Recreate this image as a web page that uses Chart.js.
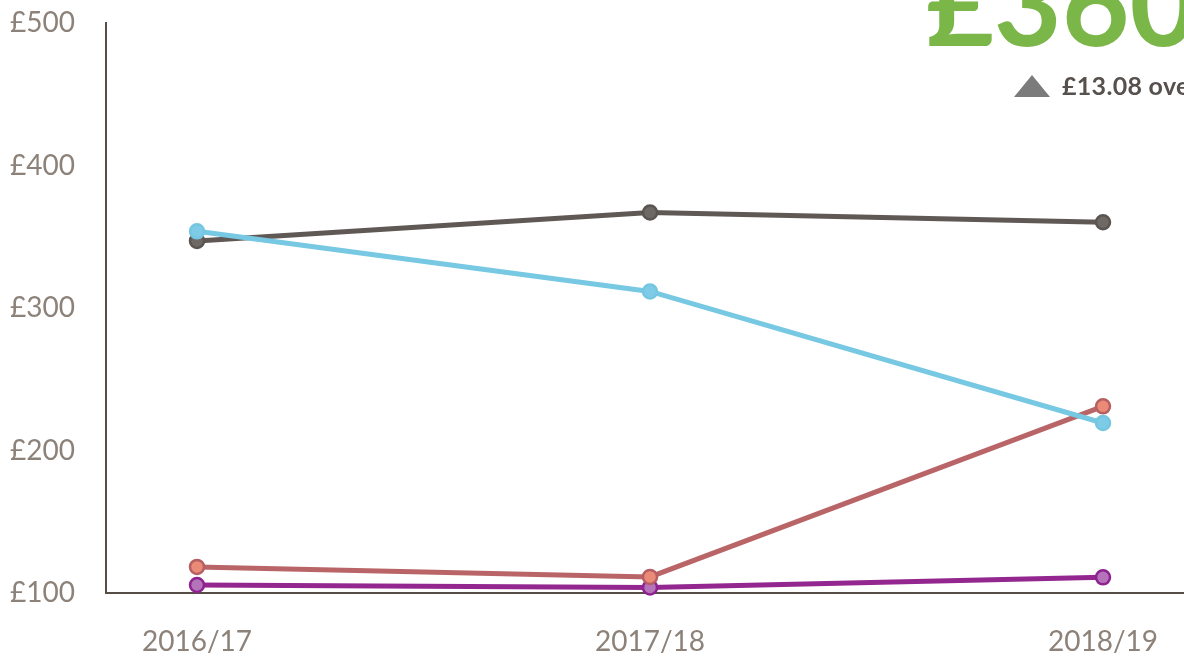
<!DOCTYPE html>
<html>
<head>
<meta charset="utf-8">
<script src="https://cdn.jsdelivr.net/npm/chart.js@4"></script>
<style>
  html, body { margin: 0; padding: 0; background: #ffffff; overflow: hidden; }
  #wrap { position: relative; width: 1184px; height: 657px; overflow: hidden; }
  #chart { position: absolute; left: 0; top: 0; }
  #big { position: absolute; left: 926px; top: -57px; font-family: Lato, sans-serif; font-weight: 700;
         font-size: 117px; line-height: 1; color: #7ab648; white-space: nowrap; }
  #tri { position: absolute; left: 1014px; top: 75px; width: 36px; height: 22px; background: #7b7b7b;
         clip-path: polygon(50% 0, 100% 100%, 0 100%); }
  #delta { position: absolute; left: 1062px; top: 73px; font-family: Lato, sans-serif; font-weight: 700;
           font-size: 25px; line-height: 1; color: #57514e; white-space: nowrap; letter-spacing: 0.3px; }
</style>
</head>
<body>
<div id="wrap">
  <canvas id="chart" width="1184" height="657"></canvas>
  <div id="big">£360</div>
  <div id="tri"></div>
  <div id="delta">£13.08 over 2016/17</div>
</div>
<script>
const categories = ["2016/17", "2017/18", "2018/19"];
const yTicks = [100, 200, 300, 400, 500];
const seriesBlue   = [353.8, 311.6, 219.3];
const seriesDark   = [347.1, 367.0, 360.2];
const seriesRed    = [118.3, 111.3, 231.0];
const seriesPurple = [105.6, 103.9, 111.0];

function pts(arr) { return arr.map((v, i) => ({ x: i, y: v })); }

const ds = (data, line, fill, border) => ({
  data: pts(data),
  borderColor: line,
  borderWidth: 5,
  pointRadius: 7,
  pointHoverRadius: 7,
  pointBackgroundColor: fill,
  pointBorderColor: border,
  pointBorderWidth: 2.5,
  tension: 0,
  fill: false,
  clip: false
});

new Chart(document.getElementById('chart'), {
  type: 'line',
  data: {
    datasets: [
      ds(seriesBlue, '#77c8e2', '#7dcbe6', '#74c6e1'),
      ds(seriesDark, '#5f5855', '#6f6966', '#5b5552'),
      ds(seriesRed, '#b96567', '#ec8a78', '#b55f62'),
      ds(seriesPurple, '#93278f', '#b574b9', '#8e2290')
    ]
  },
  options: {
    responsive: false,
    animation: false,
    events: [],
    layout: { autoPadding: false, padding: { top: 23, right: 0, bottom: 0, left: 0 } },
    plugins: { legend: { display: false }, tooltip: { enabled: false } },
    scales: {
      x: {
        type: 'linear',
        min: -0.2009,
        max: 2.1788,
        grid: { display: false, drawTicks: false },
        border: { display: true, color: '#574d47', width: 2 },
        afterBuildTicks: (scale) => { scale.ticks = categories.map((c, i) => ({ value: i })); },
        afterFit: (scale) => { scale.height = 64; scale.paddingRight = 0; scale.paddingLeft = 0; },
        ticks: {
          padding: 32,
          color: '#8c8279',
          font: { family: 'Lato', size: 28 },
          callback: (v) => categories[v]
        }
      },
      y: {
        min: yTicks[0],
        max: yTicks[yTicks.length - 1],
        grid: { display: false, drawTicks: false },
        border: { display: true, color: '#574d47', width: 2 },
        afterBuildTicks: (scale) => { scale.ticks = yTicks.map(v => ({ value: v })); },
        afterFit: (scale) => { scale.width = 106; scale.paddingTop = 0; scale.paddingBottom = 0; },
        ticks: {
          padding: 31,
          color: '#8c8279',
          font: { family: 'Lato', size: 28 },
          callback: (v) => '£' + v
        }
      }
    }
  }
});
</script>
</body>
</html>
